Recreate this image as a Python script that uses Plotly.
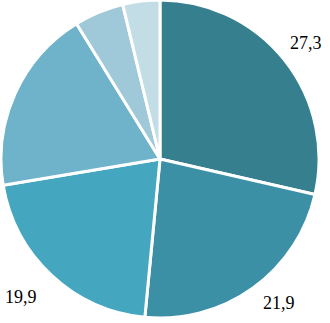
import plotly.graph_objects as go

categories = ["A", "B", "C", "D", "E", "F"]
values = [27.3, 21.9, 19.9, 18.0, 4.8, 3.6]
labels_shown = ["27,3", "21,9", "19,9", "", "", ""]
colors = ["#367F8E", "#3B90A6", "#45A6BF", "#6FB3CB", "#9FC8D8", "#C2DDE5"]

W, H = 330, 323

fig = go.Figure(go.Pie(
    labels=categories,
    values=values,
    sort=False,
    direction="clockwise",
    rotation=0,
    marker=dict(colors=colors, line=dict(color="white", width=3)),
    textinfo="none",
    hoverinfo="label+value",
    showlegend=False,
    domain=dict(x=[0, 320 / W], y=[5 / H, 1]),
))

label_pos = [(306, 43), (279, 303), (21, 297)]
for txt, (px, py) in zip([t for t in labels_shown if t], label_pos):
    fig.add_annotation(x=px / W, y=1 - py / H, xref="paper", yref="paper",
                       xanchor="center", yanchor="middle",
                       text=txt, showarrow=False,
                       font=dict(family="Liberation Serif", size=18, color="#000000"))

fig.update_layout(width=W, height=H, margin=dict(l=0, r=0, t=0, b=0),
                  paper_bgcolor="white", plot_bgcolor="white")
fig.write_html("out.html", config={"displayModeBar": False},
               post_script="document.body.style.margin='0';")
